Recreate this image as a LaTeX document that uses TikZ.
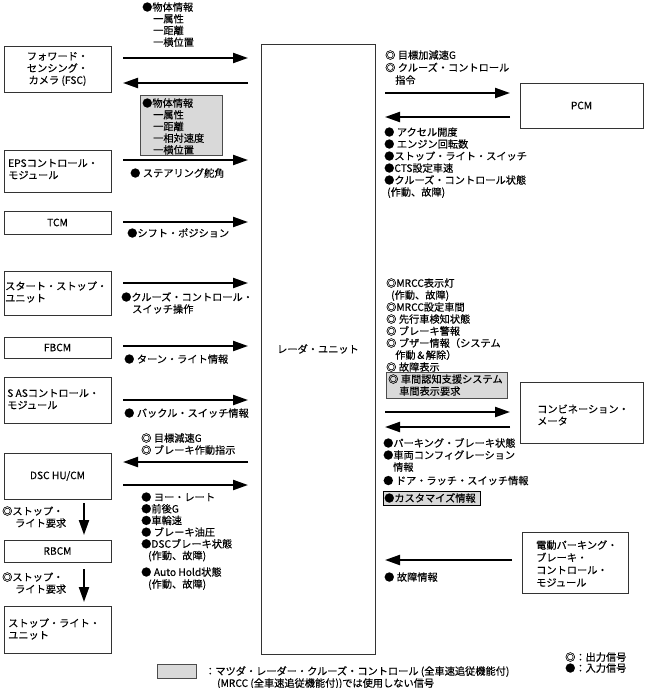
\documentclass[tikz,border=0pt]{standalone}
\usepackage{fontspec}
\setmainfont[FakeBold=0.3]{Noto Sans CJK JP}
\usetikzlibrary{arrows.meta}
\newcommand\lblfont{\fontsize{10.2pt}{12pt}\selectfont}
\newcommand\st{\rule{0pt}{9pt}}
\newcommand\g{\hspace{2.5pt}}
% box: name, x1, y1, x2, y2, options, content
\newcommand\bx[7]{\node[box, minimum width={(#4-#2)*1pt}, minimum height={(#5-#3)*1pt}, #6] (#1) at ({(#2+#4)/2},{(#3+#5)/2}) {#7};}
% label: name, x, first-line centre y, text
\newcommand\lb[4]{\node[lbl] (#1) at (#2,{#3-5.3}) {\st #4};}
% arrow: name, x from, x to, y
\newcommand\harrow[4]{\coordinate (#1s) at (#2,#4); \coordinate (#1e) at (#3,#4); \draw[sig] (#1s) -- (#1e);}
\begin{document}
\begin{tikzpicture}[x=1pt,y=-1pt,
  box/.style={draw=black!80, line width=0.9pt, inner sep=0pt, font=\lblfont, align=center},
  sig/.style={line width=2.2pt, -{Triangle[length=15pt,width=10pt]}},
  lbl/.style={anchor=north west, inner sep=0pt, align=left, font=\lblfont},
  graybox/.style={draw=black!70, fill=black!15, line width=0.8pt, inner sep=0pt}]
\useasboundingbox (0,0) rectangle (645,688);

% ---- radar unit ----
\bx{radar}{261}{44}{375}{654}{}{レーダ・ユニット}

% ---- left boxes ----
\bx{fsc}{4}{46}{111}{92}{}{フォワード・\\センシング・\\カメラ (FSC)}
\bx{eps}{4}{150}{111}{192}{}{}
\lb{epst}{8}{163}{EPSコントロール・\\モジュール}
\bx{tcm}{4}{211}{111}{234}{}{TCM}
\bx{ssu}{4}{271}{111}{315}{}{}
\lb{ssut}{5}{286}{スタート・ストップ・\\ユニット}
\bx{fbcm}{4}{337}{111}{358}{}{FBCM}
\bx{sas}{4}{377}{111}{423}{}{}
\lb{sast}{7}{393}{S ASコントロール・\\モジュール}
\bx{dsc}{4}{453}{111}{499}{}{DSC HU/CM}
\bx{rbcm}{4}{540}{111}{562}{}{RBCM}
\bx{slu}{4}{606}{111}{653}{}{}
\lb{slut}{8}{623}{ストップ・ライト・\\ユニット}

% ---- right boxes ----
\bx{pcm}{520}{83}{643}{128}{}{PCM}
\bx{cmb}{520}{382}{643}{443}{}{}
\lb{cmbt}{537}{409}{コンビネーション・\\メータ}
\bx{epb}{522}{532}{628}{593}{}{}
\lb{epbt}{536}{545}{電動パーキング・\\[0.5pt]ブレーキ・\\[0.5pt]コントロール・\\[0.5pt]モジュール}

% ---- gray boxes ----
\node[graybox, minimum width=82pt, minimum height=60pt, anchor=north west] (g1) at (140,95) {};
\node[graybox, minimum width=121pt, minimum height=26pt, anchor=north west] (g2) at (386,372) {};
\node[graybox, draw=black, line width=1pt, minimum width=97pt, minimum height=14pt, anchor=north west] (g3) at (383,491) {};
\node[graybox, minimum width=39pt, minimum height=14pt, anchor=north west] (g4) at (157,664) {};

% ---- left labels ----
\lb{t1}{142}{7}{●物体情報\\[-0.3pt]\hspace*{11pt}一属性\\[-0.3pt]\hspace*{11pt}一距離\\[-0.3pt]\hspace*{11pt}一横位置}
\lb{t2}{142}{103}{●物体情報\\[-0.3pt]\hspace*{11pt}一属性\\[-0.3pt]\hspace*{11pt}一距離\\[-0.3pt]\hspace*{11pt}一相対速度\\[-0.3pt]\hspace*{11pt}一横位置}
\lb{t3}{130}{173}{●\g ステアリング舵角}
\lb{t4}{127}{233}{●シフト・ポジション}
\lb{t5}{121}{297}{●クルーズ・コントロール・\\\hspace*{11pt}スイッチ操作}
\lb{t6}{124}{359}{●\g ターン・ライト情報}
\lb{t7}{124}{413}{●\g バックル・スイッチ情報}
\lb{t8}{141}{438}{◎\g 目標減速G\\◎\g ブレーキ作動指示}
\lb{t9}{141}{497}{●\g ヨー・レート\\[-0.3pt]●前後G\\[-0.3pt]●車輪速\\[-0.3pt]●\g ブレーキ油圧\\[-0.3pt]●DSCブレーキ状態\\[-0.3pt]\hspace*{7pt}(作動、故障)}
\lb{t10}{141}{572}{●\g Auto Hold状態\\\hspace*{7pt}(作動、故障)}
\lb{s1}{2}{511}{◎ストップ・\\\hspace*{13pt}ライト要求}
\lb{s2}{2}{577}{◎ストップ・\\\hspace*{13pt}ライト要求}

% ---- right labels ----
\lb{r1}{385}{55}{◎\g 目標加減速G\\[0.5pt]◎\g クルーズ・コントロール\\[0.5pt]\hspace*{10pt}指令}
\lb{r2}{384}{132}{●\g アクセル開度\\●\g エンジン回転数\\●ストップ・ライト・スイッチ\\●CTS設定車速\\●クルーズ・コントロール状態\\\hspace*{3pt}(作動、故障)}
\lb{r3}{386}{283}{◎MRCC表示灯\\\hspace*{5pt}(作動、故障)\\◎MRCC設定車間\\◎\g 先行車検知状態\\◎\g ブレーキ警報\\◎\g ブザー情報（システム\\\hspace*{9pt}作動＆解除）\\◎\g 故障表示}
\lb{r4}{388}{379}{◎\g 車間認知支援システム\\\hspace*{11pt}車間表示要求}
\lb{r5}{383}{443}{●パーキング・ブレーキ状態\\●車両コンフィグレーション\\\hspace*{10pt}情報\\[1.5pt]●\g ドア・ラッチ・スイッチ情報}
\lb{r6}{384}{498}{●カスタマイズ情報}
\lb{r7}{384}{577}{●\g 故障情報}

% ---- legend ----
\lb{lg1}{205}{671}{：マツダ・レーダー・クルーズ・コントロール (全車速追従機能付)\\\hspace*{12pt}(MRCC (全車速追従機能付))では使用しない信号}
\lb{lg2}{565}{657}{◎：出力信号\\[-1pt]●：入力信号}

% ---- arrows, left ----
\harrow{a1}{123}{248}{58}
\harrow{a2}{248}{123}{83}
\harrow{a3}{123}{248}{160}
\harrow{a4}{123}{248}{222}
\harrow{a5}{123}{248}{283}
\harrow{a6}{123}{248}{346}
\harrow{a7}{123}{248}{400}
\harrow{a8}{248}{123}{462}
\harrow{a9}{123}{248}{485}
% ---- arrows, right ----
\harrow{b1}{385}{510}{93}
\harrow{b2}{510}{385}{117}
\harrow{b3}{385}{510}{412}
\harrow{b4}{510}{385}{427}
\harrow{b5}{512}{385}{560}
% ---- vertical arrows ----
\coordinate (v1s) at (84,503); \coordinate (v1e) at (84,535);
\draw[sig] (v1s) -- (v1e);
\coordinate (v2s) at (84,569); \coordinate (v2e) at (84,602);
\draw[sig] (v2s) -- (v2e);
\end{tikzpicture}
\end{document}
